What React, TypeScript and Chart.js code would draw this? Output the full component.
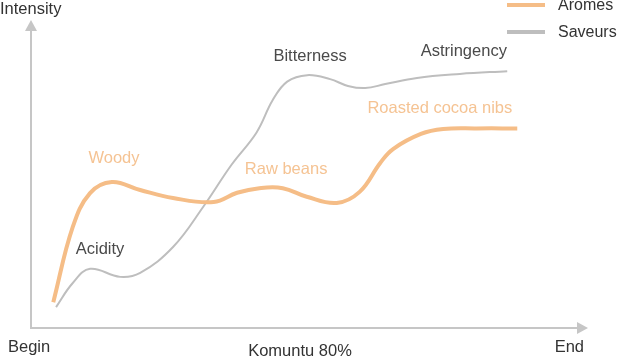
import React, { useEffect, useRef } from "react";
import { Chart, registerables } from "chart.js";

Chart.register(...registerables);

// Progress (0 = Begin, 100 = End) vs intensity (0..100)
const aromesX = [4, 7.5, 10.6, 14.5, 19.6, 25.5, 32.8, 37, 41, 45.2, 49.5, 54.9, 59, 62.7, 65, 70, 74, 80, 87.3];
const aromesY = [8.4, 32.8, 43.8, 47.4, 44.8, 42.2, 40.9, 43.9, 45.4, 45.4, 42.6, 40.6, 44.2, 53.6, 58.1, 63, 64.6, 64.8, 64.8];

const saveursX = [4.5, 7.5, 10.6, 16, 19.6, 25.5, 30.9, 36, 40.5, 43.4, 46, 49.6, 53.7, 56.9, 60, 63.6, 69.3, 77, 85.5];
const saveursY = [6.8, 14.6, 19.2, 16.6, 17.9, 26.3, 39.3, 53, 63.5, 74, 80, 82.1, 80.8, 78.6, 77.9, 79.2, 81.2, 82.5, 83.4];

const seriesNames = ["Aromes", "Saveurs"];

const aromeLabels = ["Woody", "Raw beans", "Roasted cocoa nibs"];
const aromeLabelAt = [[14.9, 54.9], [45.8, 51.6], [73.4, 71.4]];
const saveurLabels = ["Acidity", "Bitterness", "Astringency"];
const saveurLabelAt = [[12.4, 25.6], [50.1, 88.3], [77.7, 89.9]];

const yAxisTitle = "Intensity";
const xStartLabel = "Begin";
const xEndLabel = "End";
const xTitle = "Komuntu 80%";

const ORANGE = "#F5BD87";
const ORANGE_TEXT = "#F5C393";
const GRAY = "#BEBEBE";
const DARK = "#4a4a4a";
const AXIS = "#C6C6C6";
const FONT = '16.5px "Liberation Sans", Arial, sans-serif';
const LEGEND_FONT = '16px "Liberation Sans", Arial, sans-serif';

const decor = {
  id: "decor",
  beforeDatasetsDraw(chart: any) {
    const { ctx, chartArea } = chart;
    const { left, right, top, bottom } = chartArea;
    ctx.save();
    ctx.strokeStyle = AXIS;
    ctx.fillStyle = AXIS;
    ctx.lineWidth = 2;
    ctx.beginPath();
    ctx.moveTo(left, top + 8);
    ctx.lineTo(left, bottom);
    ctx.lineTo(right - 8, bottom);
    ctx.stroke();
    ctx.beginPath();
    ctx.moveTo(left, top);
    ctx.lineTo(left - 6, top + 11);
    ctx.lineTo(left + 6, top + 11);
    ctx.closePath();
    ctx.fill();
    ctx.beginPath();
    ctx.moveTo(right, bottom);
    ctx.lineTo(right - 11, bottom - 6);
    ctx.lineTo(right - 11, bottom + 6);
    ctx.closePath();
    ctx.fill();
    ctx.restore();
  },
  afterDraw(chart: any) {
    const { ctx, scales } = chart;
    const xs = scales.x;
    const ys = scales.y;
    ctx.save();
    ctx.font = FONT;
    ctx.textBaseline = "middle";
    ctx.textAlign = "center";
    ctx.fillStyle = ORANGE_TEXT;
    aromeLabels.forEach((t, i) => {
      ctx.fillText(t, xs.getPixelForValue(aromeLabelAt[i][0]), ys.getPixelForValue(aromeLabelAt[i][1]));
    });
    ctx.fillStyle = DARK;
    saveurLabels.forEach((t, i) => {
      ctx.fillText(t, xs.getPixelForValue(saveurLabelAt[i][0]), ys.getPixelForValue(saveurLabelAt[i][1]));
    });
    ctx.fillStyle = "#333";
    ctx.textAlign = "left";
    ctx.fillText(yAxisTitle, 0, 9);
    ctx.fillText(xStartLabel, 8, 347);
    ctx.textAlign = "right";
    ctx.fillText(xEndLabel, 584, 347);
    ctx.textAlign = "center";
    ctx.fillText(xTitle, 300, 351);
    ctx.font = LEGEND_FONT;
    const colors = [ORANGE, GRAY];
    seriesNames.forEach((n, i) => {
      const y = 5 + i * 27;
      ctx.strokeStyle = colors[i];
      ctx.lineWidth = 4;
      ctx.beginPath();
      ctx.moveTo(507, y);
      ctx.lineTo(545, y);
      ctx.stroke();
      ctx.fillStyle = "#333";
      ctx.textAlign = "left";
      ctx.fillText(n, 558, y + 1);
    });
    ctx.restore();
  },
};

export default function App() {
  const ref = useRef<HTMLCanvasElement>(null);
  useEffect(() => {
    document.body.style.margin = "0";
    const chart = new Chart(ref.current!, {
      type: "line",
      data: {
        datasets: [
          {
            label: seriesNames[0],
            data: aromesX.map((x, i) => ({ x, y: aromesY[i] })),
            borderColor: ORANGE,
            borderWidth: 4,
            pointRadius: 0,
            tension: 0.4,
            borderCapStyle: "butt",
          },
          {
            label: seriesNames[1],
            data: saveursX.map((x, i) => ({ x, y: saveursY[i] })),
            borderColor: GRAY,
            borderWidth: 2,
            pointRadius: 0,
            tension: 0.4,
          },
        ],
      },
      options: {
        responsive: false,
        animation: false,
        layout: { padding: { left: 31, right: 29, top: 20, bottom: 30 } },
        plugins: { legend: { display: false }, tooltip: { enabled: false } },
        scales: {
          x: { type: "linear", min: 0, max: 100, display: false },
          y: { type: "linear", min: 0, max: 100, display: false },
        },
      },
      plugins: [decor],
    });
    return () => chart.destroy();
  }, []);
  return <canvas ref={ref} width={617} height={358} style={{ display: "block" }} />;
}
